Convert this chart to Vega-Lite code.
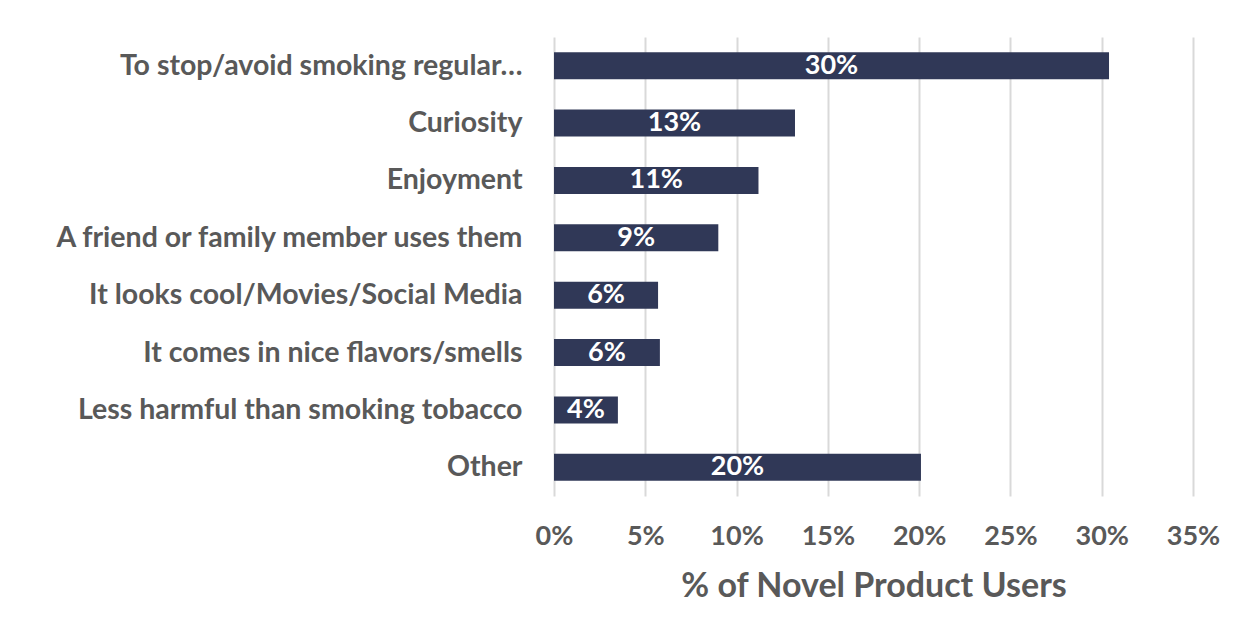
{
  "$schema": "https://vega.github.io/schema/vega-lite/v6.json",
  "autosize": {"type": "none"},
  "padding": {"left": 554, "top": 37, "right": 55, "bottom": 141},
  "width": 639,
  "height": 459,
  "background": "white",
  "data": {
    "values": [
      {"reason": "To stop/avoid smoking regular…", "share": 0.304},
      {"reason": "Curiosity", "share": 0.132},
      {"reason": "Enjoyment", "share": 0.112},
      {"reason": "A friend or family member uses them", "share": 0.09},
      {"reason": "It looks cool/Movies/Social Media", "share": 0.057},
      {"reason": "It comes in nice flavors/smells", "share": 0.058},
      {"reason": "Less harmful than smoking tobacco", "share": 0.035},
      {"reason": "Other", "share": 0.201}
    ]
  },
  "encoding": {
    "y": {
      "field": "reason",
      "type": "nominal",
      "sort": null,
      "scale": {"paddingInner": 0.53, "paddingOuter": 0.265},
      "axis": {
        "title": null,
        "domain": false,
        "ticks": false,
        "labelPadding": 32,
        "labelLimit": 700,
        "labelFont": "Lato",
        "labelFontWeight": "bold",
        "labelFontSize": 28.5,
        "labelColor": "#595959"
      }
    }
  },
  "layer": [
    {
      "mark": {"type": "bar", "color": "#303857"},
      "encoding": {
        "x": {
          "field": "share",
          "type": "quantitative",
          "scale": {"domain": [0, 0.35], "nice": false},
          "axis": {
            "format": ".0%",
            "values": [0, 0.05, 0.1, 0.15, 0.2, 0.25, 0.3, 0.35],
            "title": "% of Novel Product Users",
            "titleFont": "Lato",
            "titleFontWeight": "bold",
            "titleFontSize": 34,
            "titleColor": "#595959",
            "titlePadding": 20,
            "domain": false,
            "ticks": false,
            "labelFlush": false,
            "labelPadding": 27,
            "labelFont": "Lato",
            "labelFontWeight": "bold",
            "labelFontSize": 27,
            "labelColor": "#595959",
            "grid": true,
            "gridColor": "#d9d9d9",
            "gridWidth": 2
          }
        }
      }
    },
    {
      "mark": {"type": "text", "color": "white", "font": "Lato", "fontWeight": "bold", "fontSize": 27, "align": "center", "baseline": "middle"},
      "encoding": {
        "x": {
          "field": "share",
          "type": "quantitative",
          "scale": {"domain": [0, 0.7], "nice": false},
          "axis": null
        },
        "text": {"field": "share", "type": "quantitative", "format": ".0%"}
      }
    }
  ],
  "resolve": {"scale": {"x": "independent"}},
  "config": {"view": {"stroke": null}}
}
